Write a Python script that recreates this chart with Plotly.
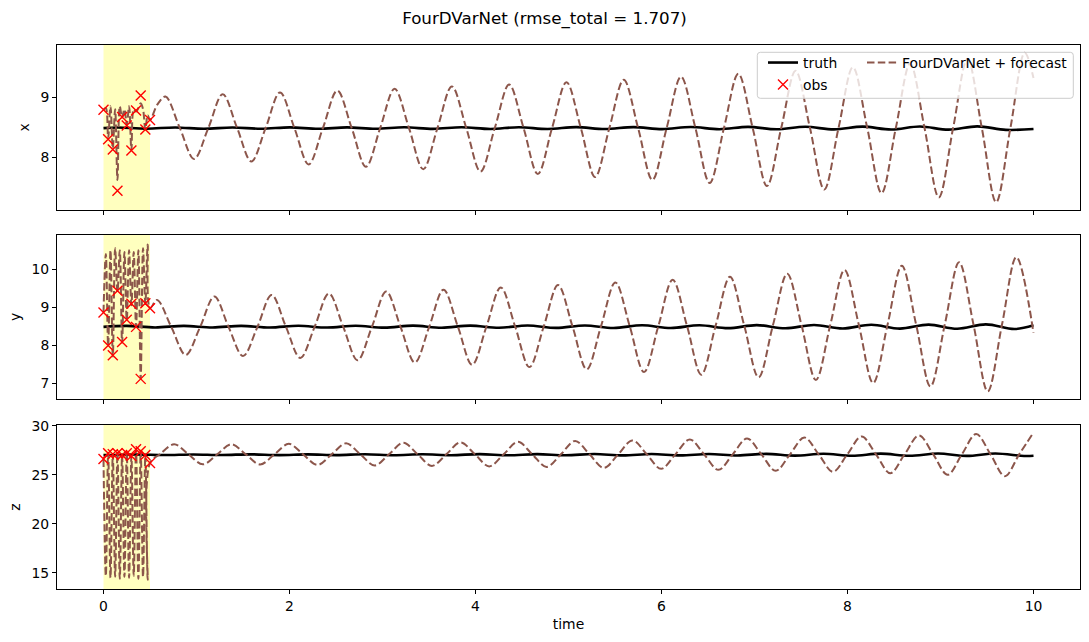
import plotly.graph_objects as go

FONT = "DejaVu Sans"
BROWN = "#8c564b"

TITLE = "FourDVarNet (rmse_total = 1.707)"
VAR_NAMES = ["x", "y", "z"]
X_TICKS = [0, 2, 4, 6, 8, 10]
Y_TICKS = [[8, 9], [7, 8, 9, 10], [15, 20, 25, 30]]
Y_RANGES = [[7.12, 9.87], [6.58, 10.90], [13.35, 30.07]]

# observations (inside the assimilation window)
OBS_T = [0.0, 0.05, 0.1, 0.15, 0.2, 0.25, 0.3, 0.35, 0.4, 0.45, 0.5]
OBS_X = [8.79, 8.30, 8.13, 7.44, 8.67, 8.53, 8.11, 8.78, 9.03, 8.46, 8.62]
OBS_Y = [8.86, 7.99, 7.73, 9.43, 8.08, 8.67, 9.09, 8.48, 7.11, 9.10, 8.97]
OBS_Z = [26.6, 27.2, 27.1, 27.2, 27.0, 27.2, 26.9, 27.6, 27.4, 27.0, 26.2]

WINDOW = [0.0, 0.5]

# truth trajectories
TRUTH_X_T = [0.0, 0.155, 0.463, 0.771, 1.079, 1.387, 1.695, 2.003, 2.311, 2.619, 2.927, 3.235,
             3.543, 3.851, 4.159, 4.467, 4.775, 5.083, 5.391, 5.699, 6.007, 6.315, 6.623, 6.931,
             7.239, 7.547, 7.855, 8.163, 8.471, 8.779, 9.087, 9.395, 9.703, 10.0]
TRUTH_X = [8.485, 8.495, 8.475, 8.496, 8.474, 8.496, 8.474, 8.497, 8.473, 8.497, 8.473, 8.498,
           8.472, 8.499, 8.471, 8.500, 8.470, 8.501, 8.469, 8.502, 8.468, 8.503, 8.467, 8.505,
           8.465, 8.507, 8.463, 8.509, 8.461, 8.511, 8.459, 8.514, 8.456, 8.47]
TRUTH_Y_T = [0.0, 0.248, 0.556, 0.864, 1.172, 1.480, 1.788, 2.096, 2.404, 2.712, 3.020, 3.328,
             3.636, 3.944, 4.252, 4.560, 4.868, 5.176, 5.484, 5.792, 6.100, 6.408, 6.716, 7.024,
             7.332, 7.640, 7.948, 8.256, 8.564, 8.872, 9.180, 9.488, 9.796, 10.0]
TRUTH_Y = [8.48, 8.505, 8.465, 8.506, 8.464, 8.507, 8.463, 8.508, 8.462, 8.510, 8.460, 8.512,
           8.458, 8.514, 8.456, 8.516, 8.454, 8.518, 8.452, 8.521, 8.449, 8.524, 8.446, 8.527,
           8.443, 8.531, 8.439, 8.535, 8.435, 8.540, 8.430, 8.546, 8.424, 8.52]
TRUTH_Z_T = [0.0, 0.350, 0.658, 0.966, 1.274, 1.582, 1.890, 2.198, 2.506, 2.814, 3.122, 3.430,
             3.738, 4.046, 4.354, 4.662, 4.970, 5.278, 5.586, 5.894, 6.202, 6.510, 6.818, 7.126,
             7.434, 7.742, 8.050, 8.358, 8.666, 8.974, 9.282, 9.590, 9.898, 10.0]
TRUTH_Z = [27.0, 27.07, 27.01, 27.07, 27.01, 27.08, 27.00, 27.08, 27.00, 27.09, 26.99, 27.09,
           26.99, 27.10, 26.98, 27.10, 26.98, 27.11, 26.97, 27.11, 26.97, 27.12, 26.96, 27.13,
           26.95, 27.14, 26.94, 27.15, 26.93, 27.16, 26.92, 27.17, 26.91, 26.93]

# FourDVarNet reconstruction inside the window
WIN_T = [0.000, 0.025, 0.050, 0.075, 0.100, 0.125, 0.150, 0.175, 0.200, 0.225, 0.250,
         0.275, 0.300, 0.325, 0.350, 0.375, 0.400, 0.425, 0.450, 0.475, 0.500]
WIN_X = [8.79, 8.82, 8.32, 8.85, 8.15, 8.80, 7.62, 8.85, 8.66, 8.80, 8.54,
         8.85, 8.12, 8.80, 8.76, 8.82, 8.90, 8.80, 8.46, 8.70, 8.62]
WIN_Y = [8.86, 10.40, 7.98, 10.50, 7.70, 10.55, 9.40, 10.50, 8.06, 10.45, 8.65,
         10.50, 9.05, 10.45, 8.48, 10.50, 7.12, 10.55, 9.08, 10.65, 8.97]
WIN_Z = [26.6, 14.7, 27.2, 14.5, 27.1, 14.6, 27.2, 14.4, 27.0, 14.6, 27.2,
         14.5, 26.9, 14.7, 27.6, 14.4, 27.4, 14.6, 27.0, 14.3, 26.2]

# forecast after the window
FC_X_T = [0.58, 0.666, 0.820, 0.974, 1.128, 1.282, 1.436, 1.590, 1.744, 1.898, 2.052, 2.206,
          2.360, 2.514, 2.668, 2.822, 2.976, 3.130, 3.284, 3.438, 3.592, 3.746, 3.900, 4.054,
          4.208, 4.362, 4.516, 4.670, 4.824, 4.978, 5.132, 5.286, 5.440, 5.594, 5.748, 5.902,
          6.056, 6.210, 6.364, 6.518, 6.672, 6.826, 6.980, 7.134, 7.288, 7.442, 7.596, 7.750,
          7.904, 8.058, 8.212, 8.366, 8.520, 8.674, 8.828, 8.982, 9.136, 9.290, 9.444, 9.598,
          9.752, 9.906, 10.0]
FC_X = [8.88, 9.01, 8.49, 7.97, 8.49, 9.05, 8.49, 7.93, 8.49, 9.08, 8.49, 7.88,
        8.49, 9.11, 8.49, 7.84, 8.49, 9.14, 8.49, 7.80, 8.49, 9.18, 8.49, 7.76,
        8.49, 9.21, 8.49, 7.72, 8.49, 9.25, 8.49, 7.67, 8.49, 9.29, 8.49, 7.62,
        8.49, 9.34, 8.49, 7.57, 8.49, 9.39, 8.49, 7.52, 8.49, 9.44, 8.49, 7.46,
        8.49, 9.50, 8.49, 7.40, 8.49, 9.56, 8.49, 7.33, 8.49, 9.64, 8.49, 7.25,
        8.49, 9.74, 9.32]
FC_Y_T = [0.576, 0.730, 0.884, 1.038, 1.192, 1.346, 1.500, 1.654, 1.808, 1.962, 2.116, 2.270,
          2.424, 2.578, 2.732, 2.886, 3.040, 3.194, 3.348, 3.502, 3.656, 3.810, 3.964, 4.118,
          4.272, 4.426, 4.580, 4.734, 4.888, 5.042, 5.196, 5.350, 5.504, 5.658, 5.812, 5.966,
          6.120, 6.274, 6.428, 6.582, 6.736, 6.890, 7.044, 7.198, 7.352, 7.506, 7.660, 7.814,
          7.968, 8.122, 8.276, 8.430, 8.584, 8.738, 8.892, 9.046, 9.200, 9.354, 9.508, 9.662,
          9.816, 10.0]
FC_Y = [9.19, 8.47, 7.74, 8.47, 9.28, 8.47, 7.71, 8.47, 9.32, 8.48, 7.66, 8.48,
        9.36, 8.48, 7.60, 8.48, 9.41, 8.48, 7.54, 8.48, 9.46, 8.49, 7.48, 8.49,
        9.52, 8.49, 7.42, 8.49, 9.58, 8.50, 7.36, 8.50, 9.65, 8.50, 7.29, 8.50,
        9.72, 8.51, 7.22, 8.51, 9.80, 8.51, 7.15, 8.52, 9.88, 8.52, 7.08, 8.52,
        9.98, 8.53, 7.00, 8.53, 10.09, 8.54, 6.91, 8.54, 10.18, 8.55, 6.78, 8.55,
        10.32, 8.32]
FC_Z_T = [0.606, 0.760, 0.914, 1.068, 1.222, 1.376, 1.530, 1.684, 1.838, 1.992, 2.146, 2.300,
          2.454, 2.608, 2.762, 2.916, 3.070, 3.224, 3.378, 3.532, 3.686, 3.840, 3.994, 4.148,
          4.302, 4.456, 4.610, 4.764, 4.918, 5.072, 5.226, 5.380, 5.534, 5.688, 5.842, 5.996,
          6.150, 6.304, 6.458, 6.612, 6.766, 6.920, 7.074, 7.228, 7.382, 7.536, 7.690, 7.844,
          7.998, 8.152, 8.306, 8.460, 8.614, 8.768, 8.922, 9.076, 9.230, 9.384, 9.538, 9.692,
          9.846, 10.0]
FC_Z = [27.08, 28.10, 27.08, 26.06, 27.08, 28.10, 27.08, 26.05, 27.08, 28.15, 27.08, 26.00,
        27.08, 28.20, 27.08, 25.95, 27.08, 28.25, 27.08, 25.90, 27.08, 28.30, 27.08, 25.85,
        27.08, 28.35, 27.08, 25.80, 27.08, 28.45, 27.08, 25.70, 27.08, 28.50, 27.08, 25.60,
        27.08, 28.60, 27.08, 25.50, 27.08, 28.70, 27.08, 25.40, 27.08, 28.80, 27.08, 25.30,
        27.08, 28.90, 27.08, 25.15, 27.08, 29.00, 27.08, 25.00, 27.08, 29.15, 27.08, 24.85,
        27.08, 29.30]

panels = [
    (TRUTH_X_T, TRUTH_X, WIN_X, FC_X_T, FC_X, OBS_X),
    (TRUTH_Y_T, TRUTH_Y, WIN_Y, FC_Y_T, FC_Y, OBS_Y),
    (TRUTH_Z_T, TRUTH_Z, WIN_Z, FC_Z_T, FC_Z, OBS_Z),
]

W, H = 1089, 642
ML, MR, MT, MB = 57, 9, 45, 53
PW = W - ML - MR
PH = H - MT - MB
PANEL_PX = [(45, 210), (235, 399), (425, 589)]
domains = [[(H - MB - b) / PH, (H - MB - t) / PH] for t, b in PANEL_PX]

FS = 13.9
FS_TITLE = 16.7


def px2paper(px, py):
    return (px - ML) / PW, 1 - (py - MT) / PH


fig = go.Figure()

for i, (tt, tv, wv, ft, fv, ov) in enumerate(panels):
    xa = "x" if i == 0 else f"x{i+1}"
    ya = "y" if i == 0 else f"y{i+1}"
    fig.add_trace(go.Scatter(
        x=tt, y=tv, mode="lines", name="truth",
        line=dict(color="black", width=2.6, shape="spline"),
        legend="legend", legendgroup="truth", showlegend=(i == 0),
        xaxis=xa, yaxis=ya, hoverinfo="skip"))
    fig.add_trace(go.Scatter(
        x=WIN_T + ft, y=wv + fv, mode="lines", name="FourDVarNet + forecast",
        line=dict(color=BROWN, width=2.0, dash="7.5px,3.3px", shape="spline"),
        legend="legend2", legendgroup="fc", showlegend=(i == 0),
        xaxis=xa, yaxis=ya, hoverinfo="skip"))
    fig.add_trace(go.Scatter(
        x=OBS_T, y=ov, mode="markers", name="obs",
        marker=dict(symbol="x-thin", size=10, color="red", line=dict(color="red", width=1.4)),
        legend="legend", legendgroup="obs", showlegend=(i == 0),
        xaxis=xa, yaxis=ya, hoverinfo="skip"))
    fig.add_shape(type="rect", xref=xa, yref=f"{ya} domain", x0=WINDOW[0], x1=WINDOW[1],
                  y0=0, y1=1, fillcolor="rgba(255,255,0,0.25)", line=dict(width=0),
                  layer="below")

tickfont = dict(family=FONT, size=FS, color="black")
axis_common = dict(ticks="outside", ticklen=4, tickwidth=1, tickcolor="black",
                   showline=True, mirror=True, linecolor="black", linewidth=1,
                   showgrid=False, zeroline=False, tickfont=tickfont)

lx1, ly1 = px2paper(763, 47)
lx2, _ = px2paper(862, 47)

layout = dict(
    width=W, height=H,
    margin=dict(l=ML, r=MR, t=MT, b=MB, autoexpand=False),
    paper_bgcolor="white", plot_bgcolor="white",
    font=dict(family=FONT, size=FS, color="black"),
    title=dict(text=TITLE, x=0.5, xref="container", xanchor="center",
               y=1 - 18 / H, yref="container", yanchor="middle",
               font=dict(family=FONT, size=FS_TITLE, color="black")),
    showlegend=True,
    legend=dict(x=lx1, xref="paper", y=ly1, yref="paper",
                xanchor="left", yanchor="top", bgcolor="rgba(0,0,0,0)", borderwidth=0,
                font=dict(family=FONT, size=FS, color="black"), tracegroupgap=1,
                traceorder="grouped"),
    legend2=dict(x=lx2, xref="paper", y=ly1, yref="paper",
                 xanchor="left", yanchor="top", bgcolor="rgba(0,0,0,0)", borderwidth=0,
                 font=dict(family=FONT, size=FS, color="black")),
)

for i in range(3):
    xk = "xaxis" if i == 0 else f"xaxis{i+1}"
    yk = "yaxis" if i == 0 else f"yaxis{i+1}"
    ya = "y" if i == 0 else f"y{i+1}"
    xa = "x" if i == 0 else f"x{i+1}"
    layout[xk] = dict(axis_common, domain=[0, 1], anchor=ya, range=[-0.5, 10.5],
                      tickvals=X_TICKS, showticklabels=(i == 2))
    if i == 2:
        layout[xk]["title"] = dict(text="time", font=tickfont, standoff=6)
    layout[yk] = dict(axis_common, domain=domains[i], anchor=xa, range=Y_RANGES[i],
                      tickvals=Y_TICKS[i],
                      title=dict(text=VAR_NAMES[i], font=tickfont, standoff=7))

fig.update_layout(**layout)

# legend frame (rounded, semi-transparent), spanning both legend columns
x0, y1 = px2paper(757.3, 52.3)
x1, y0 = px2paper(1073.3, 98.3)
rx = 3 / PW
ry = 3 / PH
path = (f"M{x0+rx},{y1} L{x1-rx},{y1} Q{x1},{y1} {x1},{y1-ry} L{x1},{y0+ry} "
        f"Q{x1},{y0} {x1-rx},{y0} L{x0+rx},{y0} Q{x0},{y0} {x0},{y0+ry} "
        f"L{x0},{y1-ry} Q{x0},{y1} {x0+rx},{y1} Z")
fig.add_shape(type="path", xref="paper", yref="paper", path=path,
              fillcolor="rgba(255,255,255,0.8)", line=dict(color="rgb(204,204,204)", width=1),
              layer="above")

fig.write_html("out.html")
